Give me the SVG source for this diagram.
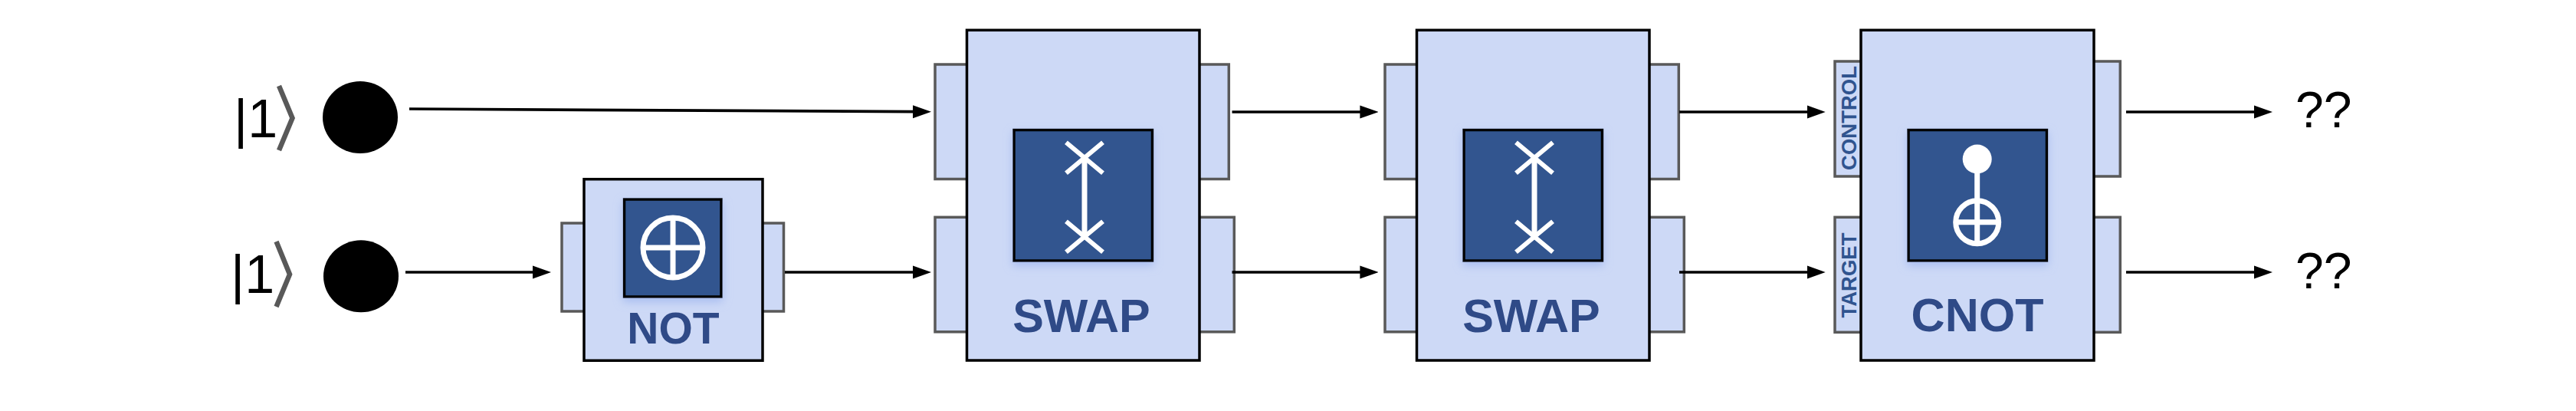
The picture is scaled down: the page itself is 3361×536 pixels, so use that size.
<svg xmlns="http://www.w3.org/2000/svg" width="3361" height="536" viewBox="0 0 3361 536">
<style>
.port{fill:#cdd9f6;stroke:#595959;stroke-width:3.5}
.box{fill:#cdd9f6;stroke:#000;stroke-width:3.5}
.inner{fill:#30548f;stroke:#000;stroke-width:3.5;filter:url(#glow)}
.sym{fill:none;stroke:#fff;stroke-width:7}
.x{fill:none;stroke:#fff;stroke-width:6}
.ket{font-family:"Liberation Sans",Arial,sans-serif;font-size:70px;fill:#000}
.chev{fill:none;stroke:#595959;stroke-width:6.5}
.name{font-family:"Liberation Sans",Arial,sans-serif;font-weight:700;font-size:61px;fill:#2f4a87;text-anchor:middle}
.tag{font-family:"Liberation Sans",Arial,sans-serif;font-weight:700;font-size:27.5px;fill:#30548f;text-anchor:middle}
.out{font-family:"Liberation Sans",Arial,sans-serif;font-size:66px;fill:#000}
.wire{fill:none;stroke:#000;stroke-width:3.7;marker-end:url(#arrow)}
</style>
<defs>
<filter id="glow" x="-20%" y="-20%" width="140%" height="140%"><feDropShadow dx="0" dy="5" stdDeviation="6" flood-color="#a4baf0" flood-opacity="0.9"/></filter>
<marker id="arrow" markerUnits="userSpaceOnUse" markerWidth="24" markerHeight="18" refX="1" refY="9" orient="auto"><path d="M0 0.5L24 9L0 17.5Z" fill="#000"/></marker>
<g id="swapglyph">
<path class="x" d="M-24 -20L24 20M24 -20L-24 20" transform="translate(0,0)"/>
<path class="x" d="M-24 -20L24 20M24 -20L-24 20" transform="translate(0,103)"/>
<path class="sym" d="M0 0V103"/>
</g>
</defs>

<g id="input1">
<text class="ket" x="305" y="179">|1</text>
<path class="chev" d="M364 112L381.5 154L364 196"/>
<ellipse cx="470" cy="153" rx="49" ry="47" fill="#000"/>
</g>
<g id="input2">
<text class="ket" x="301" y="382">|1</text>
<path class="chev" d="M360.5 315L378 357.7L360.5 400"/>
<ellipse cx="471" cy="360.3" rx="49" ry="47" fill="#000"/>
</g>

<g id="not">
<rect class="port" x="733" y="291" width="32" height="115"/>
<rect class="port" x="993" y="291" width="29.5" height="115"/>
<rect class="box" x="762" y="233.7" width="233" height="236.5"/>
<rect class="inner" x="814.5" y="260" width="126.5" height="127"/>
<circle class="sym" cx="878" cy="323" r="39"/>
<path class="sym" d="M878 284V362M839 323H917"/>
<text class="name" style="font-size:57px" x="878.5" y="447.5">NOT</text>
</g>

<g id="swap1">
<rect class="port" x="1220" y="84" width="45" height="149.5"/>
<rect class="port" x="1220" y="283.3" width="45" height="149.5"/>
<rect class="port" x="1560" y="84" width="43.3" height="149.5"/>
<rect class="port" x="1560" y="283.3" width="50.3" height="149.5"/>
<rect class="box" x="1261.5" y="39.3" width="303.5" height="430.7"/>
<rect class="inner" x="1323" y="169.5" width="180.5" height="170.5"/>
<use href="#swapglyph" x="1415" y="205.7"/>
<text class="name" x="1411" y="433">SWAP</text>
</g>

<g id="swap2">
<rect class="port" x="1807" y="84" width="45" height="149.5"/>
<rect class="port" x="1807" y="283.3" width="45" height="149.5"/>
<rect class="port" x="2147" y="84" width="43.3" height="149.5"/>
<rect class="port" x="2147" y="283.3" width="50.3" height="149.5"/>
<rect class="box" x="1848.5" y="39.3" width="303.5" height="430.7"/>
<rect class="inner" x="1910" y="169.5" width="180.5" height="170.5"/>
<use href="#swapglyph" x="2002" y="205.7"/>
<text class="name" x="1998" y="433">SWAP</text>
</g>

<g id="cnot">
<rect class="port" x="2394" y="80" width="40" height="150"/>
<rect class="port" x="2394" y="283.3" width="40" height="150"/>
<rect class="port" x="2725" y="80" width="41.3" height="150"/>
<rect class="port" x="2725" y="283.3" width="41.3" height="150"/>
<rect class="box" x="2428" y="39.3" width="304" height="430.7"/>
<rect class="inner" x="2490" y="169.5" width="180.5" height="170.5"/>
<circle cx="2579.7" cy="207.5" r="19" fill="#fff"/>
<path class="sym" d="M2579.7 220V262"/>
<circle class="sym" cx="2579.7" cy="289.7" r="28"/>
<path class="sym" d="M2579.7 262V318M2552 289.7H2608"/>
<text class="name" x="2580" y="432">CNOT</text>
<text class="tag" transform="translate(2422,154) rotate(-90)">CONTROL</text>
<text class="tag" transform="translate(2422,359) rotate(-90)">TARGET</text>
</g>

<g id="outputs">
<text class="out" x="2995" y="166">??</text>
<text class="out" x="2995" y="376">??</text>
</g>

<g id="connectors">
<path class="wire" d="M534 142L1192 145.7"/>
<path class="wire" d="M529 355H696"/>
<path class="wire" d="M1024 355H1192"/>
<path class="wire" d="M1607.5 146H1775.4"/>
<path class="wire" d="M1607.5 355H1775.4"/>
<path class="wire" d="M2191 146H2358.7"/>
<path class="wire" d="M2191 355H2358.7"/>
<path class="wire" d="M2774 146H2942"/>
<path class="wire" d="M2774 355H2942"/>
</g>
</svg>
